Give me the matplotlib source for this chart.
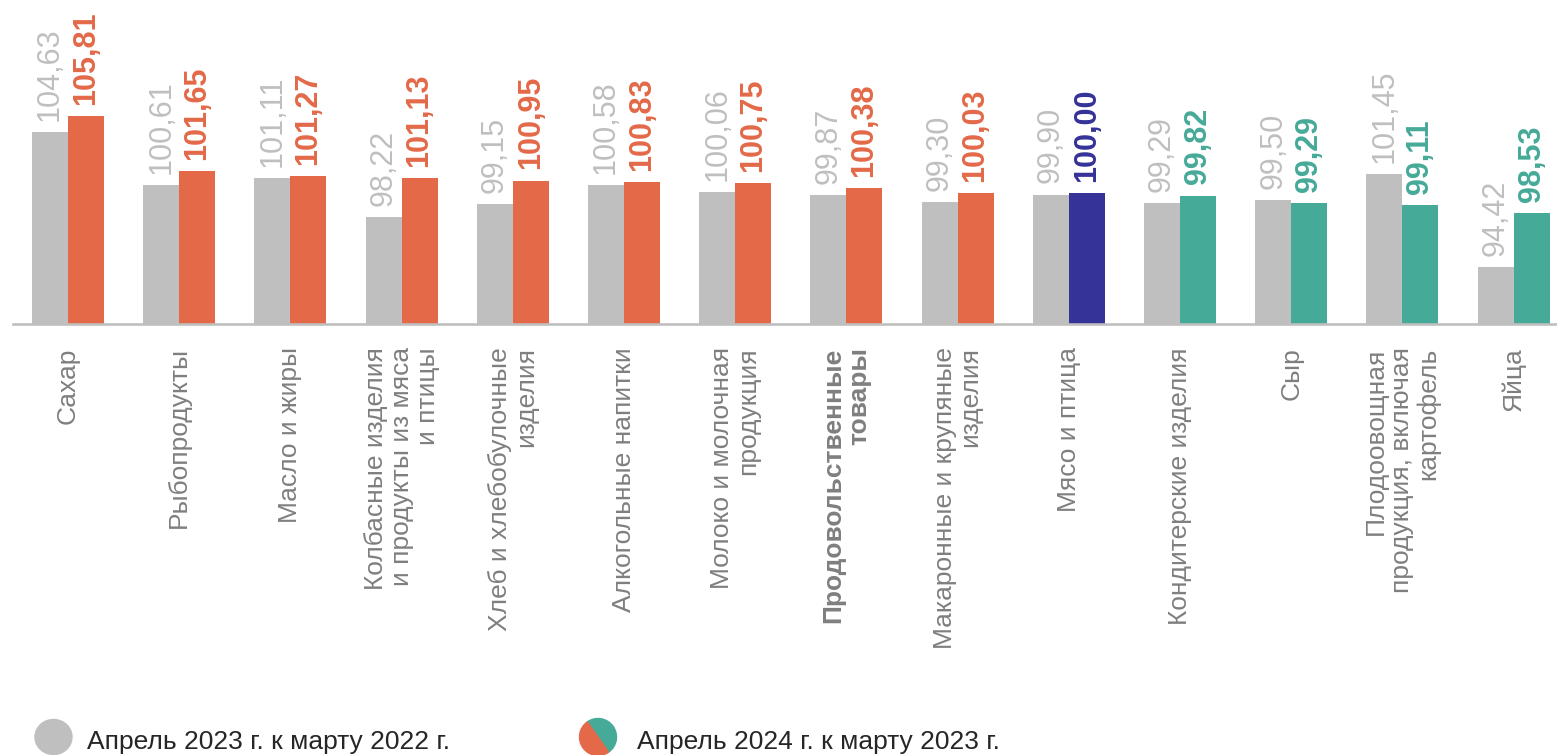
import numpy as np
import matplotlib.pyplot as plt
from matplotlib.patches import Ellipse, Wedge

plt.rcParams['font.family'] = ['Liberation Sans', 'DejaVu Sans']

categories = ['Сахар', 'Рыбопродукты', 'Масло и жиры',
              'Колбасные изделия\nи продукты из мяса\nи птицы',
              'Хлеб и хлебобулочные\nизделия', 'Алкогольные напитки',
              'Молоко и молочная\nпродукция', 'Продовольственные\nтовары',
              'Макаронные и крупяные\nизделия', 'Мясо и птица',
              'Кондитерские изделия', 'Сыр',
              'Плодоовощная\nпродукция, включая\nкартофель', 'Яйца']
v2023 = [104.63, 100.61, 101.11, 98.22, 99.15, 100.58, 100.06,
         99.87, 99.30, 99.90, 99.29, 99.50, 101.45, 94.42]
v2024 = [105.81, 101.65, 101.27, 101.13, 100.95, 100.83, 100.75,
         100.38, 100.03, 100.00, 99.82, 99.29, 99.11, 98.53]
bold_category = 'Продовольственные\nтовары'
legend_labels = ['Апрель 2023 г. к марту 2022 г.', 'Апрель 2024 г. к марту 2023 г.']

GREY = '#BFBFBF'
ORANGE = '#E36948'
NAVY = '#353298'
TEAL = '#46AA98'
LABEL_GREY = '#7F7F7F'

def color_2024(v):
    if v > 100:
        return ORANGE
    elif v < 100:
        return TEAL
    return NAVY

def fmt(v):
    return ('%.2f' % v).replace('.', ',')

W, H = 1557, 755
fig = plt.figure(figsize=(W/100, H/100), dpi=100)
ax = fig.add_axes([13/W, 1-324/H, 1-13/W, 324/H])

x = np.arange(len(categories))
bw = 0.324
cols = [color_2024(v) for v in v2024]
ax.bar(x - bw/2, v2023, bw, color=GREY)
ax.bar(x + bw/2, v2024, bw, color=cols)

ybot = 90.15
ax.set_ylim(ybot, ybot + 324/13.28)
ax.set_xlim(-55/111.2, (W-68)/111.2)
ax.axhline(ybot, color=GREY, lw=1.9, clip_on=False)
for s in ax.spines.values():
    s.set_visible(False)
ax.set_xticks([])
ax.set_yticks([])

for i in range(len(categories)):
    ax.annotate(fmt(v2023[i]), (x[i] - bw/2, v2023[i]), xytext=(0, 8),
                textcoords='offset points', rotation=90, ha='center', va='bottom',
                fontsize=22, color=GREY)
    ax.annotate(fmt(v2024[i]), (x[i] + bw/2, v2024[i]), xytext=(0, 8),
                textcoords='offset points', rotation=90, ha='center', va='bottom',
                fontsize=22, color=cols[i], fontweight='bold')
    ax.text(x[i], -0.072, categories[i], transform=ax.get_xaxis_transform(),
            rotation=90, ha='center', va='top', multialignment='right',
            fontsize=19, color=LABEL_GREY, linespacing=1.1,
            fontweight='bold' if categories[i] == bold_category else 'normal')

# legend
lax = fig.add_axes([0, 0, 1, 1])
lax.set_xlim(0, W)
lax.set_ylim(0, H)
lax.axis('off')
cy = H - 737
lax.add_patch(Ellipse((53.5, cy), 37, 35, color=GREY))
lax.add_patch(Wedge((598, cy), 18.5, -55, 125, color=TEAL))
lax.add_patch(Wedge((598, cy), 18.5, 125, 305, color=ORANGE))
lax.text(87, H - 742, legend_labels[0], fontsize=19, color='#262626', va='center', ha='left')
lax.text(637, H - 742, legend_labels[1], fontsize=19, color='#262626', va='center', ha='left')

fig.savefig('out.png', dpi=100)
